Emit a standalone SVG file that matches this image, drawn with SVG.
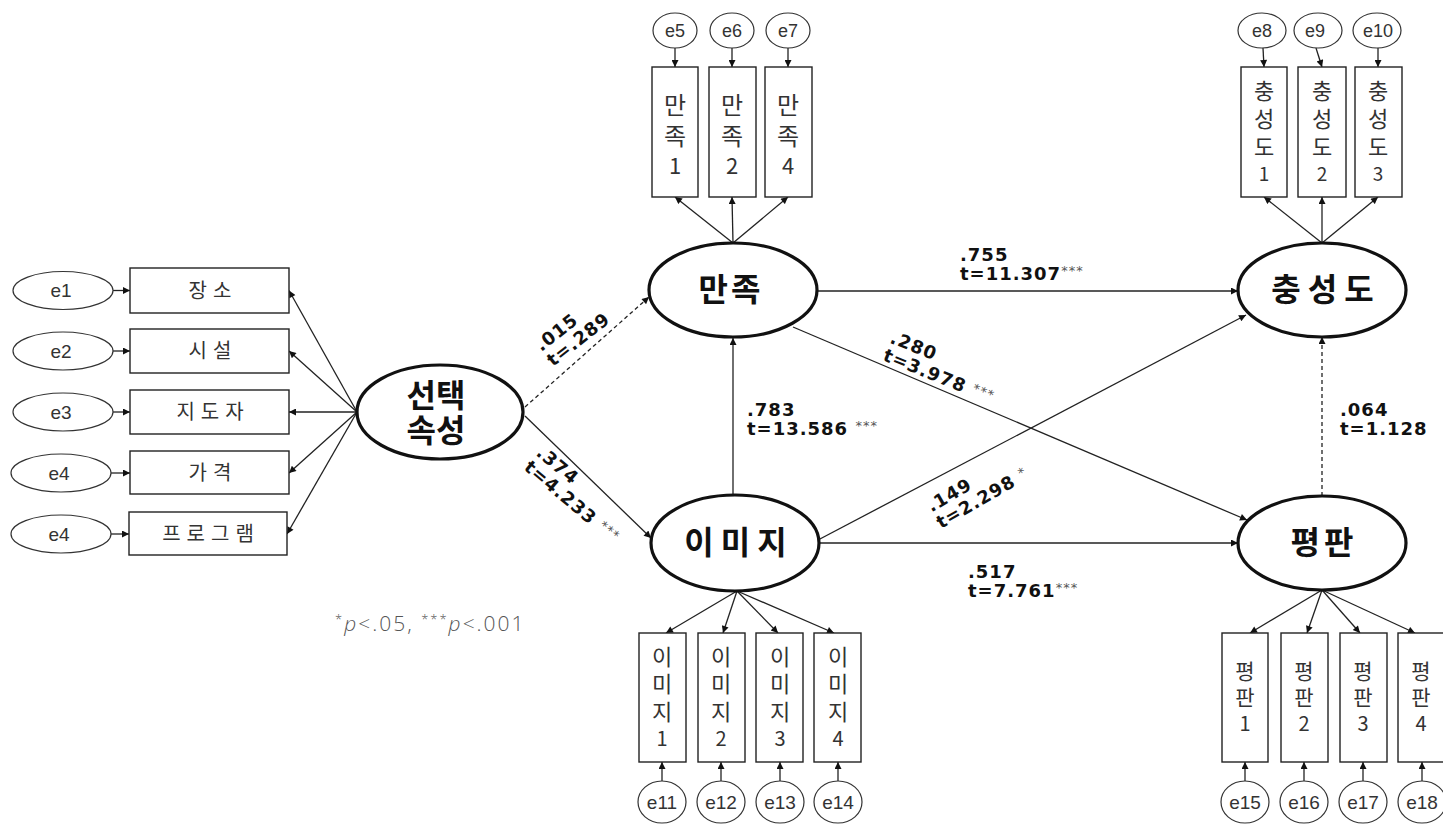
<svg xmlns="http://www.w3.org/2000/svg" width="1443" height="824" viewBox="0 0 1443 824">
<defs>
<marker id="ah" viewBox="0 0 10 10" refX="10" refY="5" markerWidth="9" markerHeight="7" markerUnits="userSpaceOnUse" orient="auto"><path d="M0,0 L10,5 L0,10 z" fill="#111"/></marker>
</defs>
<style>
.bg{fill:#fff}
.obs{fill:#fff;stroke:#222;stroke-width:1.4}
.err{fill:#fff;stroke:#333;stroke-width:1.2}
.lat{fill:#fff;stroke:#111;stroke-width:3.2}
.ln{stroke:#222;stroke-width:1.3;fill:none;marker-end:url(#ah)}
.dash{stroke-dasharray:4 3}
.et{font-family:"Liberation Sans","Noto Sans",sans-serif;font-size:19px;fill:#333;text-anchor:middle}
.es{font-family:"Liberation Sans","Noto Sans",sans-serif;font-size:18px;fill:#333;text-anchor:middle}
.bt{font-family:"Noto Sans CJK KR","Noto Sans",sans-serif;font-size:20px;fill:#333;text-anchor:middle;letter-spacing:6px}
.vt{font-family:"Noto Sans CJK KR","Noto Sans",sans-serif;fill:#333;text-anchor:middle}
.lt{font-family:"Noto Sans CJK KR",sans-serif;font-size:32px;font-weight:bold;fill:#111;text-anchor:middle}
.lb{font-family:"DejaVu Sans",sans-serif;font-size:18px;font-weight:bold;fill:#111;letter-spacing:1px}
.st{font-family:"DejaVu Sans",sans-serif;font-size:13px;font-weight:normal;fill:#555;letter-spacing:1px}
.fn{font-family:"Open Sans","DejaVu Sans",sans-serif;font-size:21px;fill:#555;font-weight:300;letter-spacing:2px}
</style>
<rect class="bg" x="0" y="0" width="1443" height="824"/>

<g id="connectors">
<line class="ln" x1="113" y1="290.5" x2="130" y2="290.5"/>
<line class="ln" x1="113" y1="351" x2="130" y2="351"/>
<line class="ln" x1="113" y1="412" x2="130" y2="412"/>
<line class="ln" x1="111" y1="473" x2="130" y2="473"/>
<line class="ln" x1="111" y1="534" x2="129" y2="534"/>
<line class="ln" x1="357" y1="412" x2="289" y2="290.5"/>
<line class="ln" x1="357" y1="412" x2="289" y2="351"/>
<line class="ln" x1="357" y1="412" x2="289" y2="412"/>
<line class="ln" x1="357" y1="412" x2="289" y2="473"/>
<line class="ln" x1="357" y1="412" x2="287" y2="534"/>
<line class="ln" x1="675" y1="48" x2="675" y2="67"/>
<line class="ln" x1="732" y1="48" x2="732" y2="67"/>
<line class="ln" x1="788" y1="48" x2="788" y2="67"/>
<line class="ln" x1="733" y1="243" x2="675" y2="197"/>
<line class="ln" x1="733" y1="243" x2="732" y2="197"/>
<line class="ln" x1="733" y1="243" x2="788" y2="197"/>
<line class="ln" x1="1263" y1="48" x2="1264" y2="67"/>
<line class="ln" x1="1316" y1="48" x2="1322" y2="67"/>
<line class="ln" x1="1378" y1="48" x2="1378" y2="67"/>
<line class="ln" x1="1322" y1="243" x2="1264" y2="197"/>
<line class="ln" x1="1322" y1="243" x2="1322" y2="197"/>
<line class="ln" x1="1322" y1="243" x2="1378" y2="197"/>
<line class="ln" x1="737" y1="591" x2="666" y2="633"/>
<line class="ln" x1="737" y1="591" x2="723" y2="633"/>
<line class="ln" x1="737" y1="591" x2="778" y2="633"/>
<line class="ln" x1="737" y1="591" x2="834" y2="633"/>
<line class="ln" x1="662" y1="782" x2="662" y2="762"/>
<line class="ln" x1="721" y1="782" x2="721" y2="762"/>
<line class="ln" x1="780" y1="782" x2="780" y2="762"/>
<line class="ln" x1="838" y1="782" x2="838" y2="762"/>
<line class="ln" x1="1322" y1="590" x2="1250" y2="633"/>
<line class="ln" x1="1322" y1="590" x2="1307" y2="633"/>
<line class="ln" x1="1322" y1="590" x2="1360" y2="633"/>
<line class="ln" x1="1322" y1="590" x2="1415" y2="633"/>
<line class="ln" x1="1245" y1="782" x2="1245" y2="762"/>
<line class="ln" x1="1304" y1="782" x2="1304" y2="762"/>
<line class="ln" x1="1363" y1="782" x2="1363" y2="762"/>
<line class="ln" x1="1422" y1="782" x2="1422" y2="762"/>
<line class="ln dash" x1="525" y1="407" x2="649" y2="297"/>
<line class="ln" x1="525" y1="416" x2="651" y2="538"/>
<line class="ln" x1="817" y1="291" x2="1238" y2="291"/>
<line class="ln" x1="819" y1="543" x2="1238" y2="543"/>
<line class="ln" x1="733" y1="495" x2="733" y2="338"/>
<line class="ln dash" x1="1322" y1="496" x2="1322" y2="337"/>
<line class="ln" x1="793" y1="327" x2="1247" y2="520"/>
<line class="ln" x1="818" y1="540" x2="1246" y2="315"/>
</g>

<g id="labels">
<text class="lb" x="960" y="261">.755<tspan x="960" dy="19">t=11.307</tspan><tspan class="st" dy="-5">***</tspan></text>
<g transform="translate(882,360) rotate(22)">
<text class="lb" x="0" y="-19">.280<tspan x="0" dy="19">t=3.978 </tspan><tspan class="st" dy="-4">***</tspan></text>
</g>
<text class="lb" x="747" y="416">.783<tspan x="747" dy="19">t=13.586 </tspan><tspan class="st" dy="-5">***</tspan></text>
<g transform="translate(553,367) rotate(-38)">
<text class="lb" x="0" y="-19">.015<tspan x="0" dy="19">t=.289</tspan></text>
</g>
<g transform="translate(523,469) rotate(40)">
<text class="lb" x="0" y="-19">.374<tspan x="0" dy="19">t=4.233 </tspan><tspan class="st" dy="-4">***</tspan></text>
</g>
<g transform="translate(941,529) rotate(-30)">
<text class="lb" x="0" y="-19">.149<tspan x="0" dy="19">t=2.298 </tspan><tspan class="st" dy="-4" font-size="16">*</tspan></text>
</g>
<text class="lb" x="968" y="578">.517<tspan x="968" dy="19">t=7.761</tspan><tspan class="st" dy="-5">***</tspan></text>
<text class="lb" x="1340" y="416">.064<tspan x="1340" dy="19">t=1.128</tspan></text>
<text class="fn" x="335" y="631"><tspan font-size="13" dy="-7">*</tspan><tspan dy="7" font-style="italic">p</tspan>&lt;.05, <tspan font-size="13" dy="-7">***</tspan><tspan dy="7" font-style="italic">p</tspan>&lt;.001</text>
</g>

<g id="e1"><ellipse class="err" cx="63" cy="290.5" rx="50" ry="19"/><text class="et" x="61" y="297">e1</text></g>
<g id="e2"><ellipse class="err" cx="63" cy="351" rx="50" ry="19"/><text class="et" x="61" y="358">e2</text></g>
<g id="e3"><ellipse class="err" cx="63" cy="412" rx="50" ry="19"/><text class="et" x="61" y="419">e3</text></g>
<g id="e4a"><ellipse class="err" cx="61" cy="473" rx="50" ry="19"/><text class="et" x="59" y="480">e4</text></g>
<g id="e4b"><ellipse class="err" cx="61" cy="534" rx="50" ry="19"/><text class="et" x="59" y="541">e4</text></g>
<g id="x1"><rect class="obs" x="130" y="268" width="159" height="45"/><text class="bt" x="213" y="298">장소</text></g>
<g id="x2"><rect class="obs" x="130" y="329" width="159" height="44"/><text class="bt" x="213" y="358">시설</text></g>
<g id="x3"><rect class="obs" x="130" y="390" width="159" height="44"/><text class="bt" x="213" y="419">지도자</text></g>
<g id="x4"><rect class="obs" x="130" y="451" width="159" height="43"/><text class="bt" x="213" y="480">가격</text></g>
<g id="x5"><rect class="obs" x="129" y="512" width="158" height="43"/><text class="bt" x="211" y="541">프로그램</text></g>

<g id="sel"><ellipse class="lat" cx="440" cy="412" rx="83" ry="47"/><text class="lt" x="436" y="407" font-size="28">선택<tspan x="436" dy="35">속성</tspan></text></g>
<g id="sat"><ellipse class="lat" cx="733" cy="290" rx="84" ry="47"/><text class="lt" x="731" y="301" letter-spacing="3">만족</text></g>
<g id="loy"><ellipse class="lat" cx="1322" cy="290" rx="84" ry="47"/><text class="lt" x="1326" y="301" letter-spacing="7">충성도</text></g>
<g id="img"><ellipse class="lat" cx="735" cy="543" rx="84" ry="48"/><text class="lt" x="739" y="554" letter-spacing="7">이미지</text></g>
<g id="rep"><ellipse class="lat" cx="1322" cy="543" rx="84" ry="47"/><text class="lt" x="1324" y="554" letter-spacing="4">평판</text></g>

<g id="e5"><ellipse class="err" cx="675" cy="30.5" rx="22" ry="17.5"/><text class="es" x="675" y="37">e5</text></g>
<g id="e6"><ellipse class="err" cx="732" cy="30.5" rx="22" ry="17.5"/><text class="es" x="732" y="37">e6</text></g>
<g id="e7"><ellipse class="err" cx="788" cy="30.5" rx="22" ry="17.5"/><text class="es" x="788" y="37">e7</text></g>
<g id="s1"><rect class="obs" x="652" y="67" width="46" height="130"/><text class="vt" font-size="24" x="675" y="114">만<tspan x="675" dy="31">족</tspan><tspan x="675" dy="29" font-size="22">1</tspan></text></g>
<g id="s2"><rect class="obs" x="709" y="67" width="47" height="130"/><text class="vt" font-size="24" x="732" y="114">만<tspan x="732" dy="31">족</tspan><tspan x="732" dy="29" font-size="22">2</tspan></text></g>
<g id="s4"><rect class="obs" x="765" y="67" width="47" height="130"/><text class="vt" font-size="24" x="788" y="114">만<tspan x="788" dy="31">족</tspan><tspan x="788" dy="29" font-size="22">4</tspan></text></g>

<g id="e8"><ellipse class="err" cx="1262" cy="30.5" rx="24" ry="17.5"/><text class="es" x="1262" y="37">e8</text></g>
<g id="e9"><ellipse class="err" cx="1318" cy="30.5" rx="24" ry="17.5"/><text class="es" x="1315" y="37">e9</text></g>
<g id="e10"><ellipse class="err" cx="1377" cy="30.5" rx="24" ry="17.5"/><text class="es" x="1378" y="37">e10</text></g>
<g id="l1"><rect class="obs" x="1241" y="67" width="46" height="130"/><text class="vt" font-size="22" x="1264" y="99">충<tspan x="1264" dy="28">성</tspan><tspan x="1264" dy="28">도</tspan><tspan x="1264" dy="26" font-size="19">1</tspan></text></g>
<g id="l2"><rect class="obs" x="1298" y="67" width="48" height="130"/><text class="vt" font-size="22" x="1322" y="99">충<tspan x="1322" dy="28">성</tspan><tspan x="1322" dy="28">도</tspan><tspan x="1322" dy="26" font-size="19">2</tspan></text></g>
<g id="l3"><rect class="obs" x="1355" y="67" width="47" height="130"/><text class="vt" font-size="22" x="1378" y="99">충<tspan x="1378" dy="28">성</tspan><tspan x="1378" dy="28">도</tspan><tspan x="1378" dy="26" font-size="19">3</tspan></text></g>

<g id="i1"><rect class="obs" x="639" y="633" width="47" height="129"/><text class="vt" font-size="22" x="662" y="665">이<tspan x="662" dy="27">미</tspan><tspan x="662" dy="28">지</tspan><tspan x="662" dy="26" font-size="20">1</tspan></text></g>
<g id="i2"><rect class="obs" x="698" y="633" width="47" height="129"/><text class="vt" font-size="22" x="721" y="665">이<tspan x="721" dy="27">미</tspan><tspan x="721" dy="28">지</tspan><tspan x="721" dy="26" font-size="20">2</tspan></text></g>
<g id="i3"><rect class="obs" x="756" y="633" width="47" height="129"/><text class="vt" font-size="22" x="780" y="665">이<tspan x="780" dy="27">미</tspan><tspan x="780" dy="28">지</tspan><tspan x="780" dy="26" font-size="20">3</tspan></text></g>
<g id="i4"><rect class="obs" x="814" y="633" width="47" height="129"/><text class="vt" font-size="22" x="838" y="665">이<tspan x="838" dy="27">미</tspan><tspan x="838" dy="28">지</tspan><tspan x="838" dy="26" font-size="20">4</tspan></text></g>
<g id="e11"><ellipse class="err" cx="662" cy="802" rx="24" ry="21"/><text class="et" x="662" y="809">e11</text></g>
<g id="e12"><ellipse class="err" cx="721" cy="802" rx="24" ry="21"/><text class="et" x="721" y="809">e12</text></g>
<g id="e13"><ellipse class="err" cx="780" cy="802" rx="24" ry="21"/><text class="et" x="780" y="809">e13</text></g>
<g id="e14"><ellipse class="err" cx="838" cy="802" rx="24" ry="21"/><text class="et" x="838" y="809">e14</text></g>

<g id="r1"><rect class="obs" x="1222" y="633" width="46" height="129"/><text class="vt" font-size="21" x="1245" y="679">평<tspan x="1245" dy="26">판</tspan><tspan x="1245" dy="26" font-size="20">1</tspan></text></g>
<g id="r2"><rect class="obs" x="1281" y="633" width="47" height="129"/><text class="vt" font-size="21" x="1304" y="679">평<tspan x="1304" dy="26">판</tspan><tspan x="1304" dy="26" font-size="20">2</tspan></text></g>
<g id="r3"><rect class="obs" x="1340" y="633" width="47" height="129"/><text class="vt" font-size="21" x="1363" y="679">평<tspan x="1363" dy="26">판</tspan><tspan x="1363" dy="26" font-size="20">3</tspan></text></g>
<g id="r4"><rect class="obs" x="1398" y="633" width="47" height="129"/><text class="vt" font-size="21" x="1421" y="679">평<tspan x="1421" dy="26">판</tspan><tspan x="1421" dy="26" font-size="20">4</tspan></text></g>
<g id="e15"><ellipse class="err" cx="1245" cy="802" rx="24" ry="21"/><text class="et" x="1245" y="809">e15</text></g>
<g id="e16"><ellipse class="err" cx="1304" cy="802" rx="24" ry="21"/><text class="et" x="1304" y="809">e16</text></g>
<g id="e17"><ellipse class="err" cx="1363" cy="802" rx="24" ry="21"/><text class="et" x="1363" y="809">e17</text></g>
<g id="e18"><ellipse class="err" cx="1422" cy="802" rx="24" ry="21"/><text class="et" x="1422" y="809">e18</text></g>
</svg>
